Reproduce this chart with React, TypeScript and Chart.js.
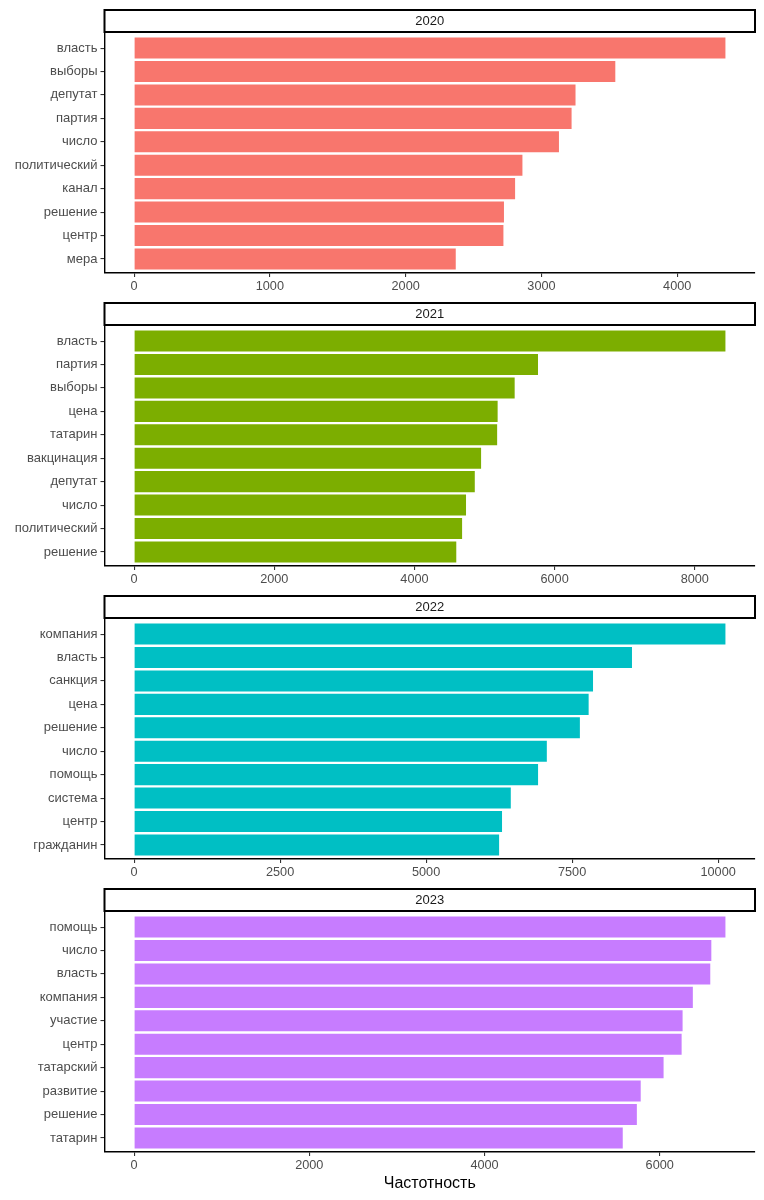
import React, { useEffect, useRef } from 'react';
import { Chart, registerables } from 'chart.js';

Chart.register(...registerables);

const years = ['2020', '2021', '2022', '2023'];

const labels2020 = ['власть', 'выборы', 'депутат', 'партия', 'число', 'политический', 'канал', 'решение', 'центр', 'мера'];
const values2020 = [4355, 3544, 3251, 3222, 3129, 2860, 2806, 2724, 2720, 2369];
const ticks2020 = [0, 1000, 2000, 3000, 4000];

const labels2021 = ['власть', 'партия', 'выборы', 'цена', 'татарин', 'вакцинация', 'депутат', 'число', 'политический', 'решение'];
const values2021 = [8437, 5763, 5430, 5187, 5180, 4951, 4861, 4736, 4680, 4597];
const ticks2021 = [0, 2000, 4000, 6000, 8000];

const labels2022 = ['компания', 'власть', 'санкция', 'цена', 'решение', 'число', 'помощь', 'система', 'центр', 'гражданин'];
const values2022 = [10125, 8525, 7858, 7783, 7633, 7067, 6917, 6450, 6300, 6250];
const ticks2022 = [0, 2500, 5000, 7500, 10000];

const labels2023 = ['помощь', 'число', 'власть', 'компания', 'участие', 'центр', 'татарский', 'развитие', 'решение', 'татарин'];
const values2023 = [6750, 6589, 6577, 6378, 6261, 6250, 6044, 5783, 5739, 5578];
const ticks2023 = [0, 2000, 4000, 6000];

const colors = ['#F8766D', '#7CAE00', '#00BFC4', '#C77CFF'];
const xTitle = 'Частотность';

const FONT = '"Liberation Sans", Arial, Helvetica, sans-serif';
const PANEL_STEP = 293;
const PLOT_BOTTOM = 273;

const stripPlugin = {
  id: 'strip',
  afterDraw(chart: any, _args: any, opts: any) {
    const { ctx, chartArea } = chart;
    const left = chartArea.left;
    const right = chartArea.right;
    ctx.save();
    ctx.fillStyle = '#FFFFFF';
    ctx.fillRect(left, opts.top, right - left, opts.height);
    ctx.strokeStyle = '#000000';
    ctx.lineWidth = 2;
    ctx.strokeRect(left, opts.top + 1, right - left, opts.height - 2);
    ctx.fillStyle = '#1A1A1A';
    ctx.font = `13px ${FONT}`;
    ctx.textAlign = 'center';
    ctx.textBaseline = 'middle';
    ctx.fillText(opts.text, (left + right) / 2, opts.top + opts.height / 2);
    ctx.restore();
  },
};

type PanelProps = {
  year: string;
  labels: string[];
  values: number[];
  ticks: number[];
  color: string;
  top: number;
  height: number;
  isLast: boolean;
};

function Panel({ year, labels, values, ticks, color, top, height, isLast }: PanelProps) {
  const ref = useRef<HTMLCanvasElement | null>(null);
  useEffect(() => {
    if (!ref.current) return;
    const maxV = Math.max(...values);
    const chart = new Chart(ref.current, {
      type: 'bar',
      data: {
        datasets: [
          {
            data: values.map((v, i) => ({ x: v, y: i })) as any,
            backgroundColor: color,
            borderWidth: 0,
            barPercentage: 0.9,
            categoryPercentage: 1,
          },
        ],
      },
      options: {
        indexAxis: 'y',
        responsive: false,
        animation: false,
        devicePixelRatio: 1,
        layout: { padding: { left: 0, right: 9, top: 34, bottom: 0 } },
        plugins: {
          legend: { display: false },
          tooltip: { enabled: false },
          title: { display: false },
          strip: { text: year, top: 9, height: 24 },
        } as any,
        scales: {
          x: {
            type: 'linear',
            position: 'bottom',
            offset: false,
            min: -0.05 * maxV,
            max: 1.05 * maxV,
            afterBuildTicks: (s: any) => {
              s.ticks = ticks.map((v) => ({ value: v }));
            },
            afterFit: (s: any) => {
              s.height = height - PLOT_BOTTOM;
            },
            grid: {
              display: true,
              offset: false,
              drawOnChartArea: false,
              drawTicks: true,
              tickLength: 4,
              color: '#333333',
              lineWidth: 1.1,
            },
            border: { display: true, color: '#000000', width: 1.4 },
            ticks: {
              color: '#4D4D4D',
              font: { family: FONT, size: 12.7 },
              padding: 1.5,
              maxRotation: 0,
              autoSkip: false,
              callback: (v: any) => String(v),
            },
            title: isLast
              ? {
                  display: true,
                  text: xTitle,
                  color: '#000000',
                  font: { family: FONT, size: 16 },
                  padding: { top: 0, bottom: 7 },
                }
              : { display: false },
          },
          y: {
            type: 'linear',
            offset: false,
            min: -0.6,
            max: labels.length - 0.4,
            reverse: true,
            afterBuildTicks: (s: any) => {
              s.ticks = labels.map((_, i) => ({ value: i }));
            },
            afterFit: (s: any) => {
              s.width = 104.5;
            },
            grid: {
              display: true,
              offset: false,
              drawOnChartArea: false,
              drawTicks: true,
              tickLength: 4,
              color: '#333333',
              lineWidth: 1.1,
            },
            border: { display: true, color: '#000000', width: 1.4 },
            ticks: {
              color: '#4D4D4D',
              font: { family: FONT, size: 13 },
              padding: 3,
              autoSkip: false,
              callback: (v: any) => labels[v] ?? '',
            },
          },
        },
      } as any,
      plugins: [stripPlugin],
    });
    return () => chart.destroy();
  }, []);
  return (
    <canvas
      ref={ref}
      width={764}
      height={height}
      style={{ position: 'absolute', left: 0, top, width: 764, height }}
    />
  );
}

export default function App() {
  const labelSets = [labels2020, labels2021, labels2022, labels2023];
  const valueSets = [values2020, values2021, values2022, values2023];
  const tickSets = [ticks2020, ticks2021, ticks2022, ticks2023];
  return (
    <div style={{ position: 'absolute', left: 0, top: 0, width: 764, height: 1200, background: '#FFFFFF' }}>
      {years.map((y, i) => {
        const top = i * PANEL_STEP;
        const isLast = i === years.length - 1;
        const h = isLast ? 1200 - top : PANEL_STEP;
        return (
          <Panel
            key={y}
            year={y}
            labels={labelSets[i]}
            values={valueSets[i]}
            ticks={tickSets[i]}
            color={colors[i]}
            top={top}
            height={h}
            isLast={isLast}
          />
        );
      })}
    </div>
  );
}
